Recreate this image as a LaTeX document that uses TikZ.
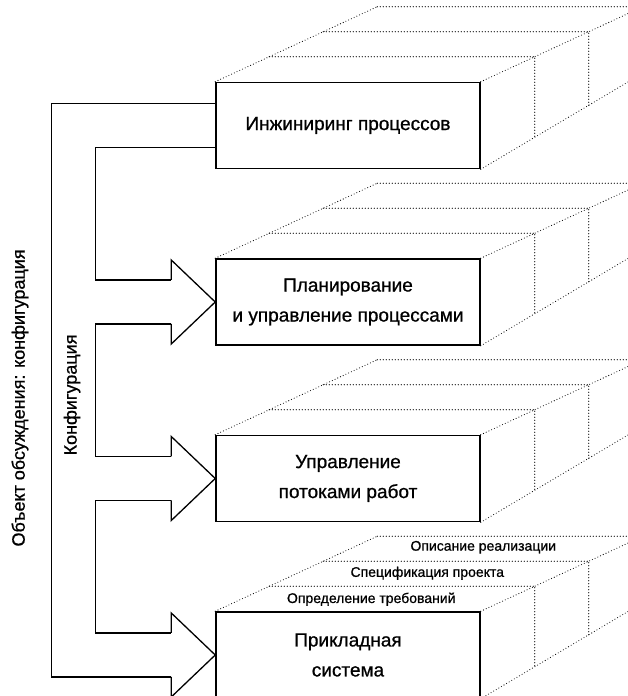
\documentclass[tikz,border=0pt]{standalone}
\usepackage{fontspec}
\setmainfont{Liberation Sans}[FakeBold=0.8]
\usetikzlibrary{positioning,calc}

\begin{document}
\begin{tikzpicture}[
    x=1pt, y=1pt,
    node distance=89pt,
    box/.style={rectangle, draw, line width=1.5pt, minimum width=264pt, minimum height=86pt, inner sep=0pt, align=center, font=\fontsize{19}{30}\selectfont},
    line/.style={line width=1.3pt},
    faint/.style={line width=1.1pt, line cap=round, dash pattern=on 0pt off 3pt},
    tag/.style={font=\fontsize{14}{16}\selectfont},
    side/.style={rotate=90, font=\fontsize{18}{20}\selectfont}
]
\useasboundingbox (0,0) rectangle (628,696);
\clip (0,0) rectangle (628,696);

% Levels
\node[box] (eng) at (348,570.5) {Инжиниринг процессов};
\node[box, below=of eng] (plan) {Планирование\\и управление процессами};
\node[box, below=of plan] (flow) {Управление\\потоками работ};
\node[box, below=of flow] (app) {Прикладная\\система};

% Dotted slabs behind each level
\foreach \b in {eng,plan,flow,app} {
  \draw[faint] (\b.north west) -- ++(162,75);
  \draw[faint] (\b.north east) -- ++(162,75);
  \draw[faint] (\b.south east) -- ++(162,96);
  \foreach \k in {1,2,3}
    \draw[faint] ([shift={(54*\k,25*\k)}]\b.north west) -- ([shift={(54*\k,25*\k)}]\b.north east) -- ([shift={(54*\k,32*\k)}]\b.south east);
}

% Slab names
\node[tag] (req) at ($(app.north west)+(156,12)$) {Определение требований};
\node[tag] (spec) at ($(app.north west)+(212,38)$) {Спецификация проекта};
\node[tag] (impl) at ($(app.north west)+(268,64)$) {Описание реализации};

% Arrow heads
\foreach \b in {plan,flow,app}
  \draw[line] ([shift={(-44,22)}]\b.west) -- ++(0,20) -- (\b.west) -- ([shift={(-44,-42)}]\b.west) -- ++(0,20);

% Shafts
\draw[line] ([yshift=-22pt]eng.west) -| ([shift={(-120,22)}]plan.west) -- ([shift={(-44,22)}]plan.west);
\draw[line] ([shift={(-44,-22)}]plan.west) -| ([shift={(-120,22)}]flow.west) -- ([shift={(-44,22)}]flow.west);
\draw[line] ([shift={(-44,-22)}]flow.west) -| ([shift={(-120,22)}]app.west) -- ([shift={(-44,22)}]app.west);
\draw[line] ([yshift=22pt]eng.west) -| ([shift={(-164,-22)}]app.west) -- ([shift={(-44,-22)}]app.west);

% Labels
\node[side] (cfg) at (72,301) {Конфигурация};
\node[side] (topic) at (20,298) {Объект обсуждения: конфигурация};

\end{tikzpicture}
\end{document}
